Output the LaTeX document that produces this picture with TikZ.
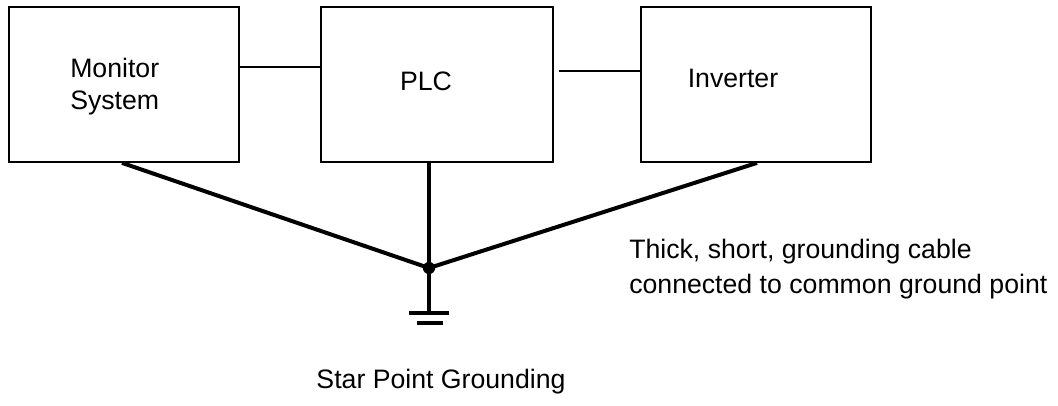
\documentclass[tikz,border=0pt]{standalone}
\usepackage{fontspec}
\setmainfont{Liberation Sans}
\begin{document}
\begin{tikzpicture}[x=0.75pt,y=-0.75pt,
  box/.style={draw, line width=1.3pt, inner sep=0pt, minimum width=172.5pt, minimum height=116.25pt},
  lbl/.style={font=\fontsize{20}{24}\selectfont, inner sep=0pt},
  thin/.style={line width=1.1pt},
  gnd/.style={line width=3pt},
  bar/.style={line width=2.6pt}]
\useasboundingbox (0,0) rectangle (1058,405);
\node[box] (mon) at (124,84.5) {};
\node[box, minimum width=174pt] (plc) at (437,84.5) {};
\node[box] (inv) at (756,84.5) {};
\node[lbl, anchor=base west] (mon1) at (70,77) {Monitor};
\node[lbl, anchor=base west] (mon2) at (70,109) {System};
\node[lbl, anchor=base] (plct) at (426,90.5) {PLC};
\node[lbl, anchor=base] (invt) at (733,87) {Inverter};
\node[lbl, anchor=base west] (note1) at (629,258) {Thick, short, grounding cable};
\node[lbl, anchor=base west] (note2) at (629,293) {connected to common ground point};
\node[lbl, anchor=base] (star) at (441,388) {Star Point Grounding};
% signal connectors
\draw[thin] (mon.east |- 0,67) -- (plc.west |- 0,67);
\coordinate (c2) at (559,71);
\draw[thin] (c2) -- (inv.west |- c2);
% ground
\coordinate (j) at (429,268);
\coordinate (g) at (429,313);
\draw[gnd] (mon.south -| 122,0) -- (j);
\draw[gnd] (plc.south -| j) -- (j);
\draw[gnd] (inv.south -| 757,0) -- (j);
\draw[gnd] (j) -- (g);
\fill (j) circle[radius=4.6pt];
\draw[bar] (409,313) -- (449,313);
\draw[bar] (417,323) -- (443,323);
\end{tikzpicture}
\end{document}
